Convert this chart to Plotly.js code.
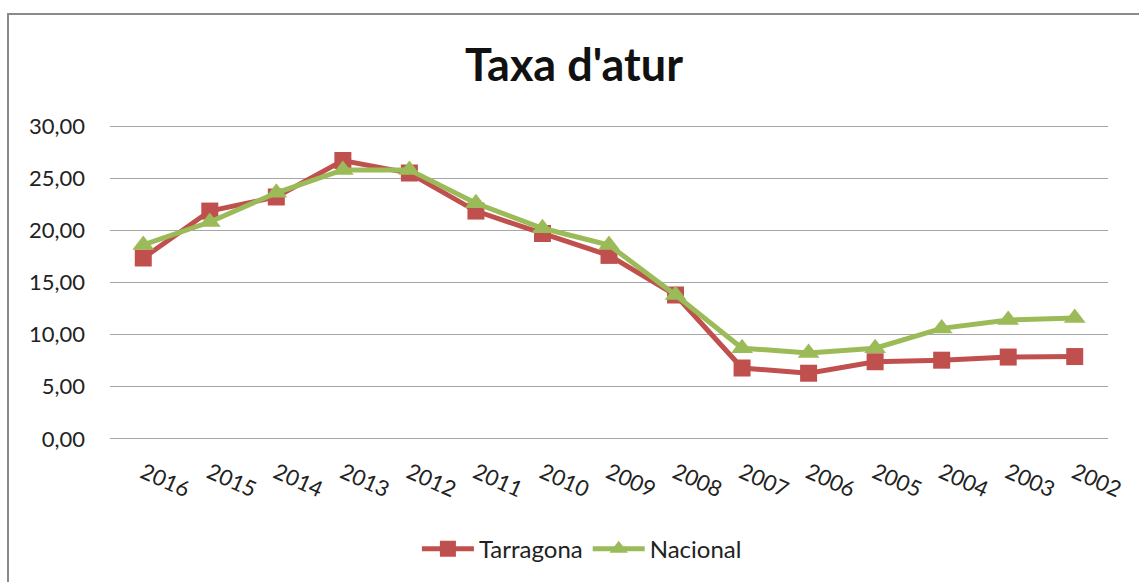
<!DOCTYPE html>
<html><head><meta charset="utf-8">
<script src="https://cdn.plot.ly/plotly-3.0.1.min.js"></script>
<style>
html,body{margin:0;padding:0;background:#fff;overflow:hidden;}
#frame{position:absolute;left:7px;top:13px;width:1140px;height:580px;border-left:2px solid #8a8a8a;border-top:2px solid #8a8a8a;}
#chart{width:1130px;height:567px;}
</style></head>
<body><div id="frame"><div id="chart"></div></div>
<script>
const years = ['2016','2015','2014','2013','2012','2011','2010','2009','2008','2007','2006','2005','2004','2003','2002'];
const tarragona = [17.35,21.85,23.2,26.7,25.5,21.85,19.7,17.6,13.8,6.8,6.3,7.4,7.55,7.85,7.9];
const nacional = [18.6,20.8,23.6,25.8,25.8,22.6,20.2,18.6,13.8,8.7,8.25,8.7,10.6,11.4,11.6];
const yTicks = [0,5,10,15,20,25,30];
const font = 'Lato, "Open Sans", sans-serif';
const traces = [
 {x: years, y: tarragona, name: 'Tarragona', type: 'scatter', mode: 'lines+markers',
  line: {color: '#C0504D', width: 5}, marker: {symbol: 'square', size: 17, color: '#C0504D'}},
 {x: years, y: nacional, name: 'Nacional', type: 'scatter', mode: 'lines+markers',
  line: {color: '#9BBB59', width: 5}, marker: {symbol: 'triangle-up', size: 19, color: '#9BBB59'}}
];
const layout = {
 width: 1130, height: 567,
 margin: {l: 101, r: 31, t: 109, b: 141},
 paper_bgcolor: '#fff', plot_bgcolor: '#fff',
 separators: ',.',
 font: {family: font, size: 22, color: '#222'},
 title: {text: "<b>Taxa d'atur</b>", font: {family: font, size: 45, color: '#111'}, x: 0.5, xanchor: 'center', y: 0.912, yanchor: 'middle'},
 xaxis: {type: 'category', range: [-0.5, 14.5], tickangle: 24, showgrid: false, zeroline: false, automargin: false,
   showline: false, ticks: '', ticklabelstandoff: 14, tickfont: {size: 22, color: '#222'}},
 yaxis: {range: [-0.2, 30.2], tickvals: yTicks, tickformat: '.2f', showgrid: true, gridcolor: '#a6a6a6', gridwidth: 1,
   zeroline: false, showline: false, automargin: false, ticks: '', ticklabelstandoff: 24, tickfont: {size: 22, color: '#222'}},
 showlegend: true,
 legend: {orientation: 'h', xref: 'container', yref: 'container', x: 0.507, xanchor: 'center', y: 0.058, yanchor: 'middle',
   font: {size: 24, color: '#222'}, itemwidth: 52},
};
Plotly.newPlot('chart', traces, layout, {displayModeBar: false, staticPlot: true});
</script></body></html>
